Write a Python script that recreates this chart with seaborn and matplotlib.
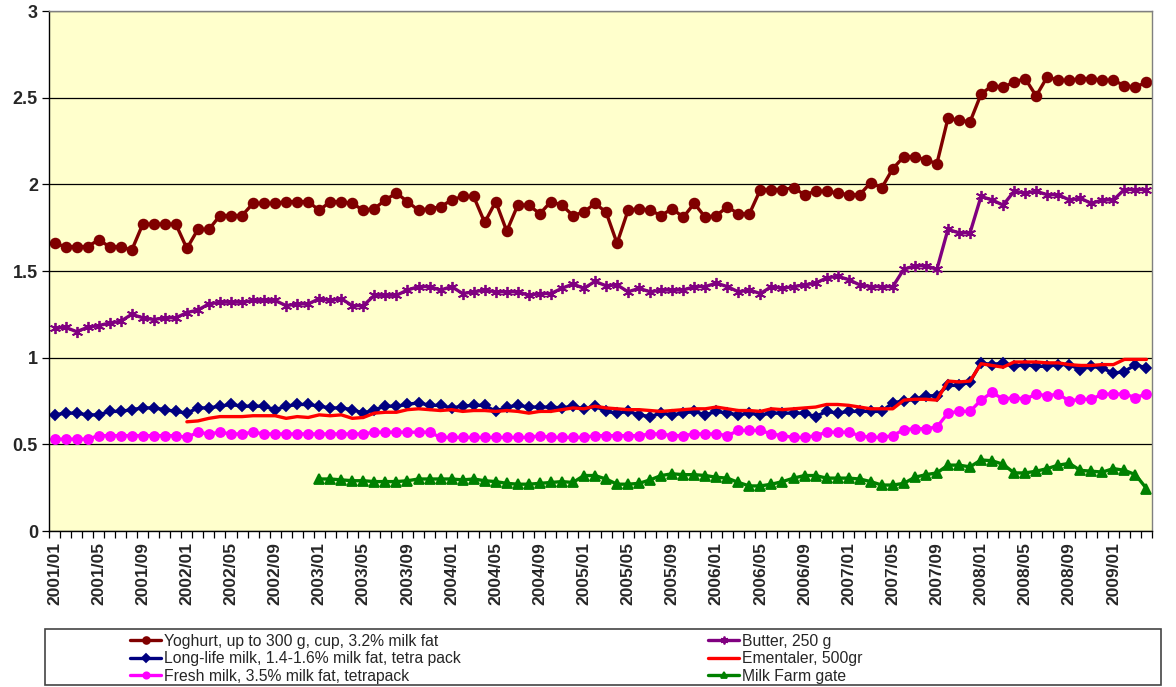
import numpy as np
import pandas as pd
import matplotlib
matplotlib.use("Agg")
import matplotlib.pyplot as plt
from matplotlib.patches import Rectangle
import seaborn as sns

# ---------------------------------------------------------------------------
# Data (monthly, 2001/01 .. 2009/04)
# ---------------------------------------------------------------------------
months = pd.date_range("2001-01-01", periods=100, freq="MS").strftime("%Y/%m").tolist()

yoghurt = [
    1.66, 1.64, 1.64, 1.64, 1.68, 1.64, 1.64, 1.62, 1.77, 1.77, 1.77, 1.77, 1.63, 1.74, 1.74, 1.82,
    1.82, 1.82, 1.89, 1.89, 1.89, 1.90, 1.90, 1.90, 1.85, 1.90, 1.90, 1.89, 1.85, 1.86, 1.91, 1.95,
    1.90, 1.85, 1.86, 1.87, 1.91, 1.93, 1.93, 1.78, 1.90, 1.73, 1.88, 1.88, 1.83, 1.90, 1.88, 1.82,
    1.84, 1.89, 1.84, 1.66, 1.85, 1.86, 1.85, 1.82, 1.86, 1.81, 1.89, 1.81, 1.82, 1.87, 1.83, 1.83,
    1.97, 1.97, 1.97, 1.98, 1.94, 1.96, 1.96, 1.95, 1.94, 1.94, 2.01, 1.98, 2.09, 2.16, 2.16, 2.14,
    2.12, 2.38, 2.37, 2.36, 2.52, 2.57, 2.56, 2.59, 2.61, 2.51, 2.62, 2.60, 2.60, 2.61, 2.61, 2.60,
    2.60, 2.57, 2.56, 2.59,
]
butter = [
    1.17, 1.175, 1.15, 1.175, 1.185, 1.20, 1.21, 1.25, 1.23, 1.22, 1.23, 1.23, 1.26, 1.275, 1.31, 1.32,
    1.32, 1.32, 1.33, 1.33, 1.33, 1.30, 1.31, 1.31, 1.34, 1.33, 1.34, 1.30, 1.30, 1.36, 1.36, 1.36,
    1.39, 1.41, 1.41, 1.39, 1.41, 1.37, 1.38, 1.39, 1.38, 1.38, 1.38, 1.36, 1.37, 1.37, 1.40, 1.425,
    1.40, 1.44, 1.415, 1.42, 1.38, 1.40, 1.38, 1.39, 1.39, 1.39, 1.41, 1.41, 1.43, 1.41, 1.38, 1.39,
    1.37, 1.41, 1.40, 1.41, 1.42, 1.43, 1.46, 1.47, 1.45, 1.42, 1.41, 1.41, 1.41, 1.51, 1.53, 1.53,
    1.51, 1.74, 1.72, 1.72, 1.93, 1.91, 1.88, 1.96, 1.95, 1.96, 1.94, 1.94, 1.91, 1.92, 1.89, 1.91,
    1.91, 1.97, 1.97, 1.97,
]
long_life = [
    0.67, 0.68, 0.68, 0.67, 0.67, 0.69, 0.69, 0.70, 0.71, 0.71, 0.70, 0.69, 0.68, 0.71, 0.71, 0.72,
    0.73, 0.72, 0.72, 0.72, 0.70, 0.72, 0.73, 0.73, 0.72, 0.71, 0.71, 0.70, 0.68, 0.70, 0.72, 0.72,
    0.73, 0.74, 0.725, 0.725, 0.71, 0.72, 0.725, 0.725, 0.69, 0.715, 0.725, 0.715, 0.715, 0.715, 0.71, 0.72,
    0.705, 0.72, 0.69, 0.68, 0.69, 0.67, 0.66, 0.68, 0.67, 0.68, 0.69, 0.67, 0.69, 0.68, 0.67, 0.68,
    0.67, 0.68, 0.68, 0.68, 0.68, 0.66, 0.69, 0.68, 0.69, 0.69, 0.69, 0.69, 0.74, 0.75, 0.76, 0.78,
    0.78, 0.84, 0.84, 0.86, 0.97, 0.96, 0.97, 0.95, 0.96, 0.95, 0.95, 0.96, 0.96, 0.93, 0.95, 0.94,
    0.91, 0.92, 0.96, 0.94,
]
ementaler = [np.nan] * 12 + [
    0.63, 0.635, 0.65, 0.66, 0.66, 0.66, 0.665, 0.665, 0.665, 0.65, 0.66, 0.655, 0.67, 0.665, 0.67, 0.65,
    0.655, 0.68, 0.685, 0.685,
    0.70, 0.705, 0.70, 0.695, 0.70, 0.69, 0.695, 0.695, 0.69, 0.695, 0.69, 0.68, 0.69, 0.69, 0.70, 0.71,
    0.705, 0.72, 0.71, 0.705, 0.70, 0.70, 0.695, 0.69, 0.695, 0.70, 0.705, 0.705, 0.715, 0.705, 0.695, 0.695,
    0.69, 0.705,
    0.70, 0.705, 0.71, 0.715, 0.73, 0.73, 0.725, 0.715, 0.705, 0.705, 0.705, 0.755, 0.76, 0.76, 0.755, 0.865,
    0.86, 0.865, 0.965, 0.955, 0.945, 0.975, 0.975, 0.975, 0.97, 0.97, 0.96, 0.955, 0.955, 0.96, 0.96, 0.99,
    0.99, 0.99,
]
fresh = [
    0.53, 0.53, 0.53, 0.53, 0.55, 0.55, 0.55, 0.55, 0.55, 0.55, 0.55, 0.55, 0.54, 0.57, 0.56, 0.57,
    0.56, 0.56, 0.57, 0.56, 0.56, 0.56, 0.56, 0.56, 0.56, 0.56, 0.56, 0.56, 0.56, 0.57, 0.57, 0.57,
    0.57, 0.57, 0.57, 0.54, 0.54, 0.54, 0.54, 0.54, 0.54, 0.54, 0.54, 0.54, 0.55, 0.54, 0.54, 0.54,
    0.54, 0.55, 0.55, 0.55, 0.55, 0.55, 0.56, 0.56, 0.55, 0.55, 0.56, 0.56, 0.56, 0.55, 0.58, 0.58,
    0.58, 0.56, 0.55, 0.54, 0.54, 0.55, 0.57, 0.57, 0.57, 0.55, 0.54, 0.54, 0.55, 0.585, 0.59, 0.59,
    0.60, 0.68, 0.69, 0.69, 0.755, 0.80, 0.76, 0.77, 0.76, 0.79, 0.78, 0.79, 0.75, 0.76, 0.76, 0.79,
    0.79, 0.79, 0.77, 0.79,
]
farm_gate = [np.nan] * 24 + [
    0.30, 0.30, 0.295, 0.29, 0.29, 0.285, 0.285, 0.285,
    0.29, 0.30, 0.30, 0.30, 0.30, 0.295, 0.30, 0.29, 0.285, 0.275, 0.27, 0.27, 0.275, 0.28, 0.285, 0.28,
    0.32, 0.32, 0.30, 0.27, 0.27, 0.275, 0.295, 0.32, 0.33, 0.325, 0.325, 0.32, 0.31, 0.305, 0.28, 0.26,
    0.26, 0.27,
    0.285, 0.305, 0.32, 0.32, 0.305, 0.305, 0.305, 0.30, 0.285, 0.265, 0.265, 0.275, 0.31, 0.325, 0.335, 0.38,
    0.38, 0.37, 0.41, 0.405, 0.385, 0.335, 0.335, 0.345, 0.36, 0.38, 0.39, 0.35, 0.345, 0.34, 0.36, 0.35,
    0.325, 0.245,
]

# ---------------------------------------------------------------------------
# Style
# ---------------------------------------------------------------------------
sns.set_style("white")
plt.rcParams["font.family"] = ["Liberation Sans", "DejaVu Sans"]

fig = plt.figure(figsize=(11.76, 6.87), dpi=100)
ax = fig.add_axes([49 / 1176, 156 / 687, 1103 / 1176, 520 / 687])
ax.set_facecolor("#FFFFCC")

x = np.arange(len(months))

# (label, values, color, marker, markersize)
series = [
    ("Yoghurt, up to 300 g, cup, 3.2% milk fat", yoghurt, "#800000", "o", 7),
    ("Long-life milk, 1.4-1.6% milk fat, tetra pack", long_life, "#000080", "D", 5.5),
    ("Fresh milk, 3.5% milk fat, tetrapack", fresh, "#FF00FF", "o", 6.5),
    ("Butter, 250 g", butter, "#800080", (6, 2, 0), 8),
    ("Ementaler, 500gr", ementaler, "#FF0000", None, 0),
    ("Milk Farm gate", farm_gate, "#008000", "^", 6.5),
]

for label, vals, color, marker, ms in series:
    kw = dict(marker=marker, markersize=ms, markeredgecolor=color,
              markerfacecolor=color, markeredgewidth=1.3) if marker else {}
    sns.lineplot(x=x, y=np.array(vals, dtype=float), ax=ax, color=color,
                 linewidth=2.4, label=label, legend=False, **kw)

# Axes
ax.set_xlim(-0.5, len(months) - 0.5)
ax.set_ylim(0, 3)
ax.set_yticks(np.arange(0, 3.01, 0.5))
ax.set_yticklabels(["0", "0.5", "1", "1.5", "2", "2.5", "3"])
ax.yaxis.grid(True, color="black", linewidth=0.9)
ax.xaxis.grid(False)
ax.set_xlabel("")
ax.set_ylabel("")

ax.set_xticks(x[::4])
ax.set_xticklabels(months[::4], rotation=90)
ax.set_xticks(np.arange(-0.5, len(months)), minor=True)
ax.tick_params(axis="x", which="major", length=0, pad=8, labelsize=12.5)
ax.tick_params(axis="x", which="minor", length=5, width=0.9, color="black", direction="out")
ax.tick_params(axis="y", length=5, width=0.9, color="black", direction="out", labelsize=13, pad=3)
ax.tick_params(bottom=True, left=True, which="both")
for lbl in ax.get_xticklabels() + ax.get_yticklabels():
    lbl.set_fontweight("bold")

ax.spines["left"].set_color("black")
ax.spines["bottom"].set_color("black")
ax.spines["top"].set_color("#808080")
ax.spines["right"].set_color("#808080")
for s in ax.spines.values():
    s.set_linewidth(1.0)
    s.set_visible(True)

# Legend: framed box at the bottom, two columns
fig.patches.append(Rectangle((45 / 1176, 2 / 687), 1116 / 1176, 56 / 687,
                             transform=fig.transFigure, facecolor="white",
                             edgecolor="#444444", linewidth=1.2))
handles, labels = ax.get_legend_handles_labels()
leg_kw = dict(frameon=False, fontsize=11.3, handlelength=2.0, handletextpad=0.15,
              labelspacing=0.15, borderpad=0, markerscale=0.7)
fig.legend(handles[:3], labels[:3], loc="upper left",
           bbox_to_anchor=(122 / 1176, 61 / 687), **leg_kw)
fig.legend(handles[3:], labels[3:], loc="upper left",
           bbox_to_anchor=(700 / 1176, 61 / 687), **leg_kw)

fig.savefig("out.png", dpi=100, facecolor="white")
